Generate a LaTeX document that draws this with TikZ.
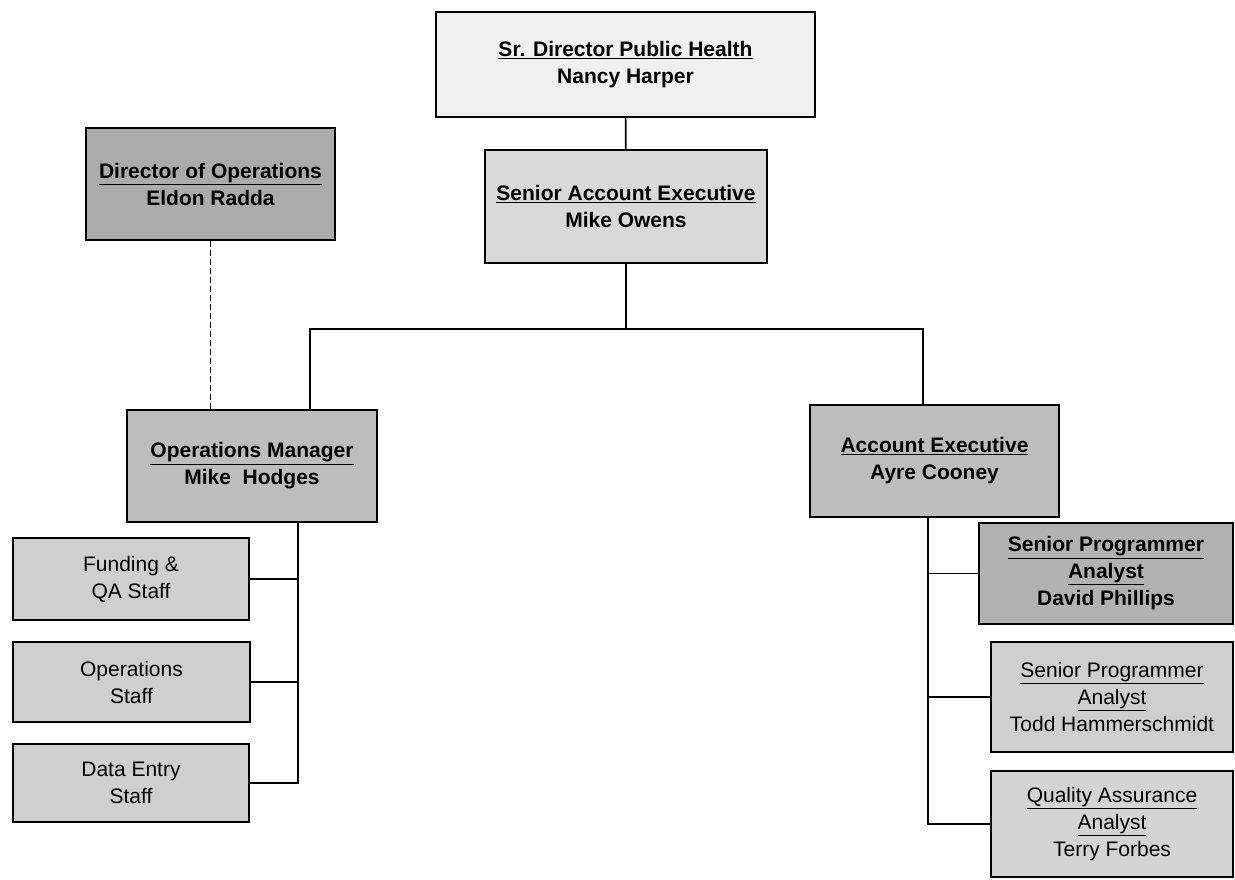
\documentclass[tikz,border=0pt]{standalone}
\usepackage{fontspec}
\setmainfont{Liberation Sans}
\begin{document}
\begin{tikzpicture}[x=1pt,y=-1pt,
  box/.style={draw=black, line width=2pt, rectangle, align=center, inner sep=0pt,
    font=\fontsize{21}{27}\selectfont},
  bbox/.style={box, font=\fontsize{21}{27}\selectfont\bfseries},
  link/.style={draw=black, line width=1.6pt},
  dlink/.style={draw=black, line width=1.4pt, dash pattern=on 6pt off 3pt}]
\useasboundingbox[fill=white] (0,0) rectangle (1235,879);

\node[bbox, fill=black!6, minimum width=379pt, minimum height=105pt] (top) at (625.5,64.5)
  {\underline{Sr. Director Public Health}\\Nancy Harper};
\node[bbox, fill=black!15, minimum width=282pt, minimum height=113pt] (sae) at (626,206.5)
  {\underline{Senior Account Executive}\\Mike Owens};
\node[bbox, fill=black!33, minimum width=249pt, minimum height=112pt] (dop) at (210.5,184)
  {\underline{Director of Operations}\\Eldon Radda};
\node[bbox, fill=black!26, minimum width=250pt, minimum height=112pt] (opm) at (252,466)
  {\underline{Operations Manager}\\Mike\ \ Hodges};
\node[bbox, fill=black!26, minimum width=249pt, minimum height=112pt] (ae) at (934.5,461)
  {\underline{Account Executive}\\Ayre Cooney};

\node[box, fill=black!19, minimum width=236pt, minimum height=82pt] (fund) at (131,579)
  {Funding \&\\QA Staff};
\node[box, fill=black!19, minimum width=237pt, minimum height=80pt] (ops) at (131.5,682)
  {Operations\\Staff};
\node[box, fill=black!19, minimum width=236pt, minimum height=78pt] (de) at (131,783)
  {Data Entry\\Staff};

\node[bbox, fill=black!30, minimum width=254pt, minimum height=101pt] (dp) at (1106,573.5)
  {\underline{Senior Programmer}\\\underline{Analyst}\\David Phillips};
\node[box, fill=black!19, minimum width=242pt, minimum height=110pt] (todd) at (1112,697)
  {\underline{Senior Programmer}\\\underline{Analyst}\\Todd Hammerschmidt};
\node[box, fill=black!17, minimum width=242pt, minimum height=106pt] (terry) at (1112,824)
  {\underline{Quality Assurance}\\\underline{Analyst}\\Terry Forbes};

\coordinate (lx) at (310,329);
\coordinate (rx) at (923,329);
\coordinate (lbus) at (298,0);
\coordinate (rbus) at (928,0);

\draw[link] (top) -- (sae);
\draw[link] (sae.south) -- (sae.south |- lx);
\draw[link] (opm.north -| lx) -- (lx) -- (rx) -- (ae.north -| rx);
\draw[dlink] (dop.south) -- (dop.south |- opm.north);

\draw[link] (opm.south -| lbus) |- (de.east);
\draw[link] (fund.east) -- (fund.east -| lbus);
\draw[link] (ops.east) -- (ops.east -| lbus);

\draw[link] (ae.south -| rbus) |- (terry.west);
\draw[link] (dp.west) -- (dp.west -| rbus);
\draw[link] (todd.west) -- (todd.west -| rbus);
\end{tikzpicture}
\end{document}
